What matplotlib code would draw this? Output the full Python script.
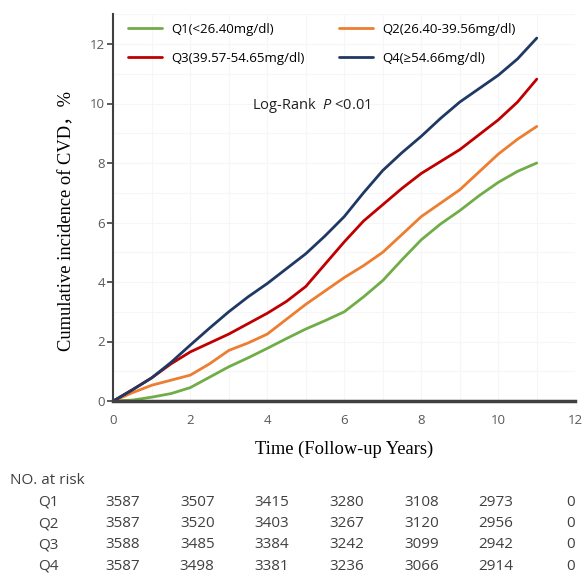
import matplotlib
matplotlib.use("Agg")
import matplotlib.pyplot as plt

# follow-up time (years) and cumulative incidence (%)
years = [0, 0.5, 1, 1.5, 2, 2.5, 3, 3.5, 4, 4.5, 5, 5.5, 6, 6.5, 7, 7.5, 8, 8.5, 9, 9.5, 10, 10.5, 11]
q1 = [0, 0.03, 0.13, 0.25, 0.45, 0.8, 1.15, 1.45, 1.77, 2.1, 2.42, 2.7, 3.0, 3.5, 4.05, 4.75, 5.42, 5.95, 6.4, 6.9, 7.35, 7.72, 8.0]
q2 = [0, 0.28, 0.53, 0.7, 0.87, 1.25, 1.7, 1.95, 2.25, 2.75, 3.25, 3.7, 4.15, 4.55, 5.0, 5.6, 6.2, 6.65, 7.1, 7.7, 8.3, 8.8, 9.23]
q3 = [0, 0.38, 0.78, 1.25, 1.65, 1.95, 2.25, 2.6, 2.95, 3.35, 3.85, 4.6, 5.35, 6.05, 6.6, 7.15, 7.65, 8.05, 8.45, 8.95, 9.45, 10.05, 10.82]
q4 = [0, 0.38, 0.78, 1.3, 1.88, 2.45, 3.0, 3.5, 3.95, 4.45, 4.95, 5.55, 6.2, 7.0, 7.75, 8.35, 8.9, 9.5, 10.05, 10.5, 10.95, 11.5, 12.2]

labels = ["Q1(<26.40mg/dl)", "Q2(26.40-39.56mg/dl)", "Q3(39.57-54.65mg/dl)", "Q4(\u226554.66mg/dl)"]
colors = ["#70AD47", "#ED7D31", "#C00000", "#1F3864"]

# number at risk table
groups = ["Q1", "Q2", "Q3", "Q4"]
at_risk = [
    [3587, 3507, 3415, 3280, 3108, 2973, 0],
    [3587, 3520, 3403, 3267, 3120, 2956, 0],
    [3588, 3485, 3384, 3242, 3099, 2942, 0],
    [3587, 3498, 3381, 3236, 3066, 2914, 0],
]

sans = ["Open Sans", "DejaVu Sans"]
serif = ["Liberation Serif", "Noto Sans CJK SC"]
plt.rcParams["mathtext.fontset"] = "custom"
plt.rcParams["mathtext.it"] = "Open Sans:italic"
W, H = 583, 575

fig = plt.figure(figsize=(W / 100, H / 100), dpi=100)
ax = fig.add_axes([113.3 / W, 1 - 401 / H, 462 / W, 386.75 / H])

lines = []
for ys, lab, c in zip([q1, q2, q3, q4], labels, colors):
    ln, = ax.plot(years, ys, color=c, lw=2.0, label=lab, solid_capstyle="round",
                  solid_joinstyle="round")
    lines.append(ln)

ax.set_xlim(0, 12)
ax.set_ylim(0, 13)
ax.set_xticks(range(0, 13, 2))
ax.set_yticks(range(0, 13, 2))
ax.set_xticks(range(0, 13), minor=True)
ax.set_yticks(range(0, 14), minor=True)
ax.grid(which="both", color="#f6f6f6", lw=0.8)
ax.set_axisbelow(True)

for s in ["top", "right"]:
    ax.spines[s].set_visible(False)
ax.spines["left"].set_color("#404040")
ax.spines["left"].set_linewidth(1.5)
ax.spines["bottom"].set_color("#404040")
ax.spines["bottom"].set_linewidth(2.5)

ax.tick_params(axis="x", which="both", length=0, pad=9, labelsize=9.5, labelcolor="#595959")
ax.tick_params(axis="y", which="major", length=4, width=1.2, color="#404040", pad=2,
               labelsize=9.5, labelcolor="#595959")
ax.tick_params(axis="y", which="minor", length=0)
for t in ax.get_xticklabels() + ax.get_yticklabels():
    t.set_fontfamily(sans)

ax.set_xlabel("Time (Follow-up Years)", family=serif, fontsize=13.3, labelpad=10)
ax.set_ylabel("Cumulative incidence of CVD\uff0c%", family=serif, fontsize=13.3)
ax.yaxis.set_label_coords(-0.083, 0.465)

# legend filled row by row: Q1 Q2 / Q3 Q4
order = [0, 2, 1, 3]
ax.legend([lines[i] for i in order], [labels[i] for i in order], loc="upper left", ncol=2,
          frameon=False, prop={"family": sans, "size": 9.5},
          handlelength=2.6, columnspacing=2.6, handletextpad=0.7, labelspacing=1.2,
          bbox_to_anchor=(0.006, 1.008))

ax.text(0.30, 0.765, "Log-Rank  $P$ <0.01", transform=ax.transAxes,
        family=sans, fontsize=10.5, color="#202020", va="center")

# number at risk
fig.text(10 / W, 1 - 480 / H, "NO. at risk", family=sans, fontsize=11, color="#404040",
         va="center", ha="left")
row_y = [502, 523.5, 545, 566]
col_x = [122.5 + 74.7 * i for i in range(7)]
for g, row, yp in zip(groups, at_risk, row_y):
    fig.text(48 / W, 1 - yp / H, g, family=sans, fontsize=11, color="#404040",
             va="center", ha="center")
    for v, xp in zip(row, col_x):
        fig.text(xp / W, 1 - yp / H, str(v), family=sans, fontsize=11, color="#404040",
                 va="center", ha="center")

fig.savefig("out.png", dpi=100)
